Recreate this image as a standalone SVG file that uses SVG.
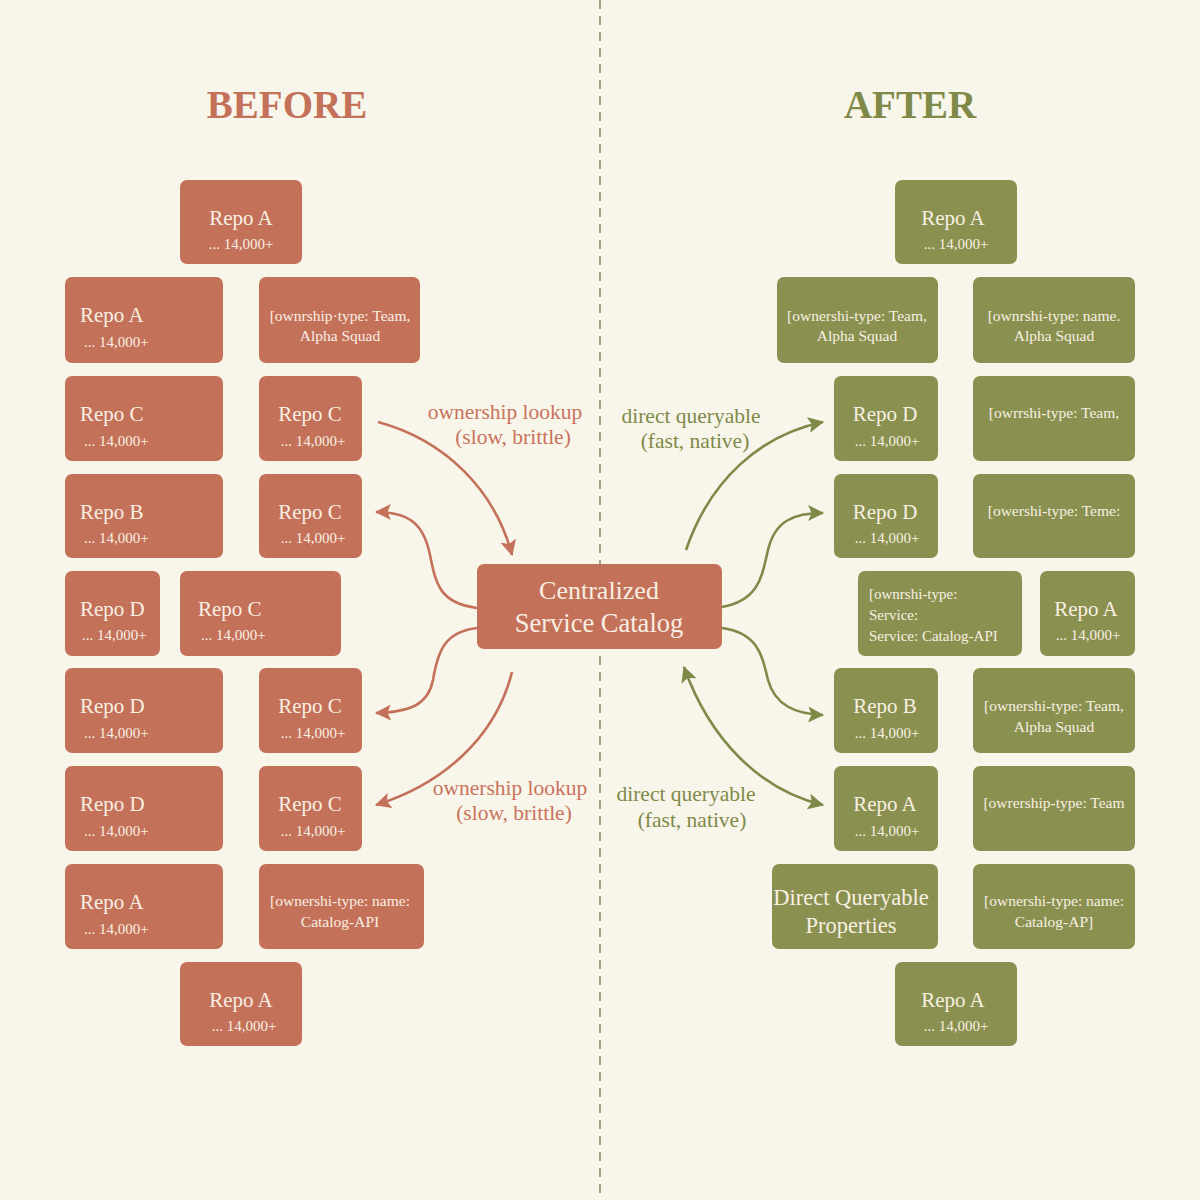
<svg xmlns="http://www.w3.org/2000/svg" width="1200" height="1200" viewBox="0 0 1200 1200">
<defs>
<style>
.t{fill:#c4715a}
.o{fill:#8a9150}
.n rect{rx:7}
.tx{font-family:"Liberation Serif","DejaVu Serif",serif;fill:#f8efe2}
.m{font-size:21px}
.s{font-size:15px}
.a{font-size:15.5px}
.c{text-anchor:middle}
.title{font-family:"Liberation Serif","DejaVu Serif",serif;font-size:39px;font-weight:bold;text-anchor:middle}
.lbl{font-family:"Liberation Serif","DejaVu Serif",serif;font-size:21.5px;text-anchor:middle}
.ct{stroke:#c4715a;stroke-width:2.6;fill:none}
.co{stroke:#7f8a48;stroke-width:2.6;fill:none}
</style>
<marker id="ah-t" viewBox="0 0 14 14" refX="13" refY="7" markerWidth="16" markerHeight="16" markerUnits="userSpaceOnUse" orient="auto-start-reverse"><path d="M0,0 L14,7 L0,14 L3,7 Z" fill="#c4715a"/></marker>
<marker id="ah-o" viewBox="0 0 14 14" refX="13" refY="7" markerWidth="16" markerHeight="16" markerUnits="userSpaceOnUse" orient="auto-start-reverse"><path d="M0,0 L14,7 L0,14 L3,7 Z" fill="#7f8a48"/></marker>
</defs>
<rect width="1200" height="1200" fill="#f8f5ea"/>
<line x1="600" y1="0" x2="600" y2="1200" stroke="#8c9270" stroke-width="1.6" stroke-dasharray="9 7"/>
<text class="title" x="287" y="118" fill="#c4715a">BEFORE</text>
<text class="title" x="910" y="118" fill="#7f8a48">AFTER</text>

<g id="connectors">
<path class="ct" d="M378,422 C445,440 495,490 512,555" marker-end="url(#ah-t)"/>
<path class="ct" d="M477,608 C440,603 436,585 430,555 C424,525 410,512 376,512" marker-end="url(#ah-t)"/>
<path class="ct" d="M477,628 C445,632 438,650 433,680 C428,705 410,712 376,713" marker-end="url(#ah-t)"/>
<path class="ct" d="M512,672 C495,740 440,785 376,805" marker-end="url(#ah-t)"/>
<path class="co" d="M686,550 C710,480 760,435 823,422" marker-end="url(#ah-o)"/>
<path class="co" d="M722,607 C760,600 762,575 768,550 C775,520 795,513 823,513" marker-end="url(#ah-o)"/>
<path class="co" d="M722,628 C758,633 762,655 768,680 C775,705 795,714 823,715" marker-end="url(#ah-o)"/>
<path class="co" d="M684,667 C710,740 760,790 823,805" marker-start="url(#ah-o)" marker-end="url(#ah-o)"/>
<text class="lbl" x="505" y="419" fill="#c9735d">ownership lookup</text>
<text class="lbl" x="513" y="444" fill="#c9735d">(slow, brittle)</text>
<text class="lbl" x="691" y="423" fill="#7f8a48">direct queryable</text>
<text class="lbl" x="695" y="448" fill="#7f8a48">(fast, native)</text>
<text class="lbl" x="510" y="795" fill="#c9735d">ownership lookup</text>
<text class="lbl" x="514" y="820" fill="#c9735d">(slow, brittle)</text>
<text class="lbl" x="686" y="801" fill="#7f8a48">direct queryable</text>
<text class="lbl" x="692" y="827" fill="#7f8a48">(fast, native)</text>
</g>

<!-- BEFORE nodes -->
<g id="b1" class="n"><rect class="t" x="180" y="180" width="122" height="84"/><text class="tx m c" x="241" y="225">Repo A</text><text class="tx s c" x="241" y="249">... 14,000+</text></g>
<g id="b2" class="n"><rect class="t" x="65" y="277" width="158" height="86"/><text class="tx m" x="80" y="322">Repo A</text><text class="tx s" x="84" y="347">... 14,000+</text></g>
<g id="b3" class="n"><rect class="t" x="259" y="277" width="161" height="86"/><text class="tx a c" x="340" y="321">[ownrship·type: Team,</text><text class="tx a c" x="340" y="341">Alpha Squad</text></g>
<g id="b4" class="n"><rect class="t" x="65" y="376" width="158" height="85"/><text class="tx m" x="80" y="421">Repo C</text><text class="tx s" x="84" y="446">... 14,000+</text></g>
<g id="b5" class="n"><rect class="t" x="259" y="376" width="103" height="85"/><text class="tx m c" x="310" y="421">Repo C</text><text class="tx s c" x="313" y="446">... 14,000+</text></g>
<g id="b6" class="n"><rect class="t" x="65" y="474" width="158" height="84"/><text class="tx m" x="80" y="519">Repo B</text><text class="tx s" x="84" y="543">... 14,000+</text></g>
<g id="b7" class="n"><rect class="t" x="259" y="474" width="103" height="84"/><text class="tx m c" x="310" y="519">Repo C</text><text class="tx s c" x="313" y="543">... 14,000+</text></g>
<g id="b8" class="n"><rect class="t" x="65" y="571" width="95" height="85"/><text class="tx m" x="80" y="616">Repo D</text><text class="tx s" x="82" y="640">... 14,000+</text></g>
<g id="b9" class="n"><rect class="t" x="180" y="571" width="161" height="85"/><text class="tx m" x="198" y="616">Repo C</text><text class="tx s" x="201" y="640">... 14,000+</text></g>
<g id="b10" class="n"><rect class="t" x="65" y="668" width="158" height="85"/><text class="tx m" x="80" y="713">Repo D</text><text class="tx s" x="84" y="738">... 14,000+</text></g>
<g id="b11" class="n"><rect class="t" x="259" y="668" width="103" height="85"/><text class="tx m c" x="310" y="713">Repo C</text><text class="tx s c" x="313" y="738">... 14,000+</text></g>
<g id="b12" class="n"><rect class="t" x="65" y="766" width="158" height="85"/><text class="tx m" x="80" y="811">Repo D</text><text class="tx s" x="84" y="836">... 14,000+</text></g>
<g id="b13" class="n"><rect class="t" x="259" y="766" width="103" height="85"/><text class="tx m c" x="310" y="811">Repo C</text><text class="tx s c" x="313" y="836">... 14,000+</text></g>
<g id="b14" class="n"><rect class="t" x="65" y="864" width="158" height="85"/><text class="tx m" x="80" y="909">Repo A</text><text class="tx s" x="84" y="934">... 14,000+</text></g>
<g id="b15" class="n"><rect class="t" x="259" y="864" width="165" height="85"/><text class="tx a c" x="340" y="906">[ownershi-type: name:</text><text class="tx a c" x="340" y="927">Catalog-API</text></g>
<g id="b16" class="n"><rect class="t" x="180" y="962" width="122" height="84"/><text class="tx m c" x="241" y="1007">Repo A</text><text class="tx s c" x="244" y="1031">... 14,000+</text></g>

<!-- Center -->
<g id="catalog" class="n"><rect class="t" x="477" y="564" width="245" height="85"/><text class="tx c" x="599" y="599" font-size="26">Centralized</text><text class="tx c" x="599" y="632" font-size="26.5">Service Catalog</text></g>

<!-- AFTER nodes -->
<g id="a1" class="n"><rect class="o" x="895" y="180" width="122" height="84"/><text class="tx m c" x="953" y="225">Repo A</text><text class="tx s c" x="956" y="249">... 14,000+</text></g>
<g id="a2" class="n"><rect class="o" x="777" y="277" width="161" height="86"/><text class="tx a c" x="857" y="321">[ownershi-type: Team,</text><text class="tx a c" x="857" y="341">Alpha Squad</text></g>
<g id="a3" class="n"><rect class="o" x="973" y="277" width="162" height="86"/><text class="tx a c" x="1054" y="321">[ownrshi-type: name.</text><text class="tx a c" x="1054" y="341">Alpha Squad</text></g>
<g id="a4" class="n"><rect class="o" x="834" y="376" width="104" height="85"/><text class="tx m c" x="885" y="421">Repo D</text><text class="tx s c" x="887" y="446">... 14,000+</text></g>
<g id="a5" class="n"><rect class="o" x="973" y="376" width="162" height="85"/><text class="tx a c" x="1054" y="418">[owrrshi-type: Team,</text></g>
<g id="a6" class="n"><rect class="o" x="834" y="474" width="104" height="84"/><text class="tx m c" x="885" y="519">Repo D</text><text class="tx s c" x="887" y="543">... 14,000+</text></g>
<g id="a7" class="n"><rect class="o" x="973" y="474" width="162" height="84"/><text class="tx a c" x="1054" y="516">[owershi-type: Teme:</text></g>
<g id="a8" class="n"><rect class="o" x="858" y="571" width="164" height="85"/><text class="tx s" x="869" y="599">[ownrshi-type:</text><text class="tx s" x="869" y="620">Service:</text><text class="tx s" x="869" y="641">Service: Catalog-API</text></g>
<g id="a9" class="n"><rect class="o" x="1040" y="571" width="95" height="85"/><text class="tx m c" x="1086" y="616">Repo A</text><text class="tx s c" x="1088" y="640">... 14,000+</text></g>
<g id="a10" class="n"><rect class="o" x="834" y="668" width="104" height="85"/><text class="tx m c" x="885" y="713">Repo B</text><text class="tx s c" x="887" y="738">... 14,000+</text></g>
<g id="a11" class="n"><rect class="o" x="973" y="668" width="162" height="85"/><text class="tx a c" x="1054" y="711">[ownershi-type: Team,</text><text class="tx a c" x="1054" y="732">Alpha Squad</text></g>
<g id="a12" class="n"><rect class="o" x="834" y="766" width="104" height="85"/><text class="tx m c" x="885" y="811">Repo A</text><text class="tx s c" x="887" y="836">... 14,000+</text></g>
<g id="a13" class="n"><rect class="o" x="973" y="766" width="162" height="85"/><text class="tx a c" x="1054" y="808">[owrership-type: Team</text></g>
<g id="a14" class="n"><rect class="o" x="772" y="864" width="166" height="85"/><text class="tx c" x="851" y="905" font-size="22.5">Direct Queryable</text><text class="tx c" x="851" y="933" font-size="22.5">Properties</text></g>
<g id="a15" class="n"><rect class="o" x="973" y="864" width="162" height="85"/><text class="tx a c" x="1054" y="906">[ownershi-type: name:</text><text class="tx a c" x="1054" y="927">Catalog-AP]</text></g>
<g id="a16" class="n"><rect class="o" x="895" y="962" width="122" height="84"/><text class="tx m c" x="953" y="1007">Repo A</text><text class="tx s c" x="956" y="1031">... 14,000+</text></g>
</svg>
